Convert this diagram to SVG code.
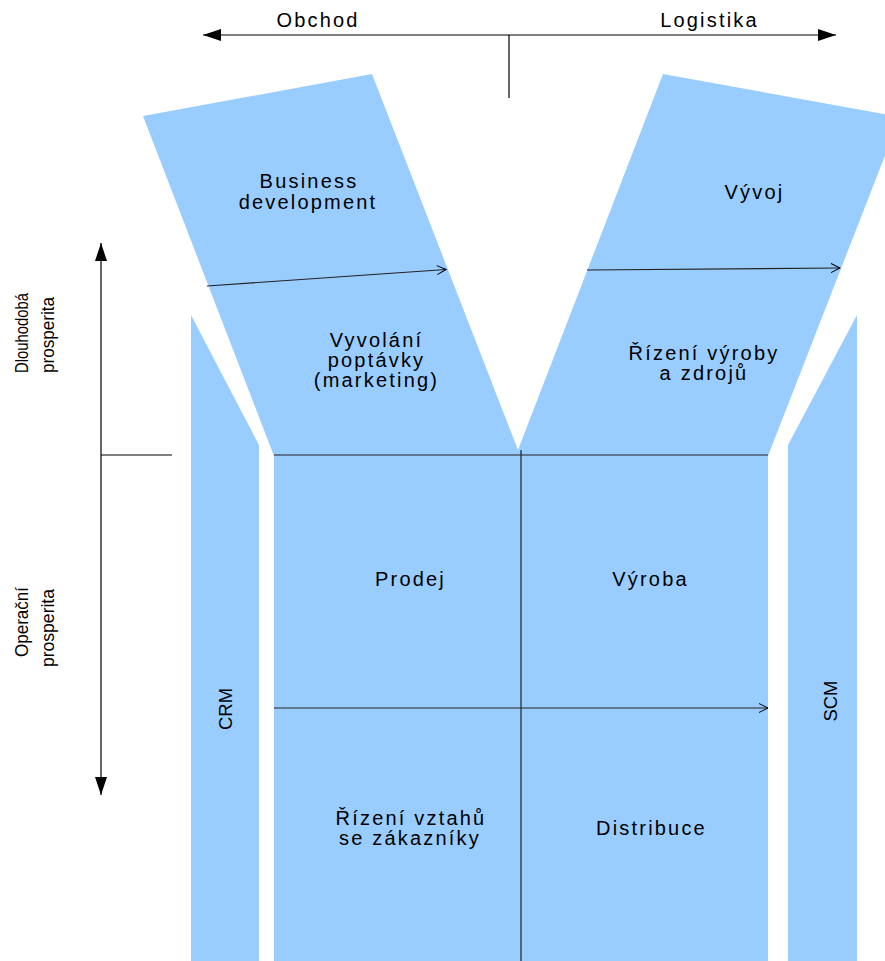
<svg xmlns="http://www.w3.org/2000/svg" width="885" height="961" viewBox="0 0 885 961">
  <defs>
    <marker id="solid" viewBox="0 0 18 12" refX="18" refY="6" markerWidth="18" markerHeight="12" markerUnits="userSpaceOnUse" orient="auto-start-reverse">
      <path d="M0,0 L18,6 L0,12 Z" fill="#000"/>
    </marker>
    <marker id="open" viewBox="0 0 12 12" refX="11" refY="6" markerWidth="12" markerHeight="12" markerUnits="userSpaceOnUse" orient="auto">
      <path d="M2,1.5 L11,6 L2,10.5" fill="none" stroke="#000" stroke-width="1"/>
    </marker>
  </defs>
  <style>
    .area { fill: #99ccff; stroke: none; }
    .lbl { font-family: "Liberation Sans", Arial, sans-serif; font-size: 20px; letter-spacing: 2.2px; fill: #000; text-anchor: middle; }
    .vlbl { font-family: "Liberation Sans", Arial, sans-serif; font-size: 19px; fill: #000; text-anchor: middle; }
    .ln { stroke: #000; stroke-width: 1.2; fill: none; }
    .dk { stroke: #222; stroke-width: 1.2; fill: none; }
  </style>

  <rect width="885" height="961" fill="#fff"/>

  <!-- side columns -->
  <g id="crm">
    <polygon class="area" points="191,315 259,445 259,961 191,961"/>
    <text class="vlbl" transform="translate(232,709) rotate(-90)" textLength="42" lengthAdjust="spacingAndGlyphs">CRM</text>
  </g>
  <g id="scm">
    <polygon class="area" points="857,315 857,961 788,961 788,445"/>
    <text class="vlbl" transform="translate(837,701) rotate(-90)" textLength="41" lengthAdjust="spacingAndGlyphs">SCM</text>
  </g>

  <!-- slanted upper wings -->
  <g id="obchod-wing">
    <polygon class="area" points="143,116 372,74 518,450 518,456 274,456"/>
    <text class="lbl" x="309" y="188">Business</text>
    <text class="lbl" x="308" y="208.5">development</text>
    <text class="lbl" x="376.5" y="346.5">Vyvolání</text>
    <text class="lbl" x="376.5" y="366.5">poptávky</text>
    <text class="lbl" x="376.5" y="386.5">(marketing)</text>
  </g>
  <g id="logistika-wing">
    <polygon class="area" points="663,74 900,117 768,456 518,456 518,450"/>
    <text class="lbl" x="754.5" y="199">Vývoj</text>
    <text class="lbl" x="704" y="360">Řízení výroby</text>
    <text class="lbl" x="704" y="380">a zdrojů</text>
  </g>

  <!-- central quadrants -->
  <g id="prodej">
    <rect class="area" x="274" y="455" width="247" height="253"/>
    <text class="lbl" x="410.5" y="586">Prodej</text>
  </g>
  <g id="vyroba">
    <rect class="area" x="521" y="455" width="247" height="253"/>
    <text class="lbl" x="650.5" y="586">Výroba</text>
  </g>
  <g id="rizeni-vztahu">
    <rect class="area" x="274" y="708" width="247" height="253"/>
    <text class="lbl" x="411" y="825">Řízení vztahů</text>
    <text class="lbl" x="410" y="845">se zákazníky</text>
  </g>
  <g id="distribuce">
    <rect class="area" x="521" y="708" width="247" height="253"/>
    <text class="lbl" x="651.5" y="835">Distribuce</text>
  </g>

  <!-- axis labels -->
  <g id="axis-labels">
    <text class="lbl" x="318" y="27">Obchod</text>
    <text class="lbl" x="709.5" y="27">Logistika</text>
    <text class="vlbl" transform="translate(28,333) rotate(-90)" textLength="80" lengthAdjust="spacingAndGlyphs">Dlouhodobá</text>
    <text class="vlbl" transform="translate(54,335) rotate(-90)" textLength="76" lengthAdjust="spacingAndGlyphs">prosperita</text>
    <text class="vlbl" transform="translate(28,622) rotate(-90)" textLength="70" lengthAdjust="spacingAndGlyphs">Operační</text>
    <text class="vlbl" transform="translate(54,628) rotate(-90)" textLength="78" lengthAdjust="spacingAndGlyphs">prosperita</text>
  </g>

  <!-- connectors and axes -->
  <g id="connectors">
    <line class="ln" x1="203" y1="35" x2="836" y2="35" marker-start="url(#solid)" marker-end="url(#solid)"/>
    <line class="ln" x1="509" y1="35" x2="509" y2="98"/>
    <line class="ln" x1="101" y1="243" x2="101" y2="795" marker-start="url(#solid)" marker-end="url(#solid)"/>
    <line class="ln" x1="101" y1="455" x2="172" y2="455"/>
    <line class="dk" x1="207" y1="286" x2="446" y2="269.5" marker-end="url(#open)"/>
    <line class="dk" x1="587" y1="270" x2="840" y2="268" marker-end="url(#open)"/>
    <line class="dk" x1="274" y1="455" x2="768" y2="455"/>
    <line class="dk" x1="521" y1="450" x2="521" y2="961"/>
    <line class="dk" x1="274" y1="708" x2="768" y2="708" marker-end="url(#open)"/>
  </g>
</svg>
